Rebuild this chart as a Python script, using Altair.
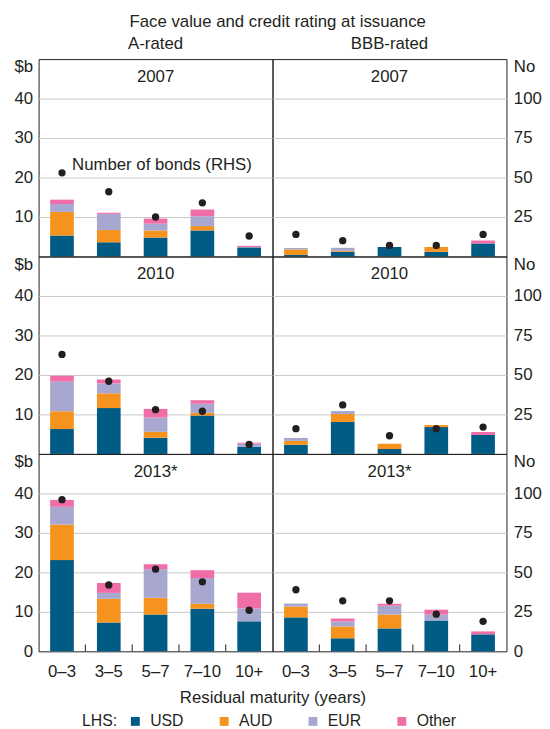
import altair as alt
import pandas as pd

# ---------------- data ----------------
maturities = ["0–3", "3–5", "5–7", "7–10", "10+"]
currencies = ["USD", "AUD", "EUR", "Other"]
currency_colors = ["#005b85", "#f6921e", "#a7a7cf", "#ef6ea8"]
years = ["2007", "2010", "2013*"]
ratings = ["A-rated", "BBB-rated"]

# A-rated, $b by currency (LHS) and number of bonds (RHS)
a_2007 = {"USD": [5.3, 3.6, 4.8, 6.6, 2.3], "AUD": [6.0, 3.1, 1.8, 1.1, 0.0],
          "EUR": [2.0, 4.1, 1.7, 2.5, 0.1], "Other": [1.1, 0.3, 1.3, 1.7, 0.3]}
a_2007_bonds = [53, 41, 25, 34, 13]

a_2010 = {"USD": [6.3, 11.6, 4.1, 9.7, 1.8], "AUD": [4.5, 3.75, 1.5, 0.7, 0.0],
          "EUR": [7.5, 2.5, 3.6, 2.3, 0.8], "Other": [1.5, 1.0, 2.2, 0.9, 0.25]}
a_2010_bonds = [63, 46, 28, 27, 6]

a_2013 = {"USD": [23.1, 7.3, 9.3, 10.8, 7.6], "AUD": [9.0, 6.0, 4.25, 1.25, 0.0],
          "EUR": [4.5, 1.5, 7.25, 6.5, 3.25], "Other": [1.75, 2.5, 1.25, 2.0, 4.0]}
a_2013_bonds = [96, 42, 52, 44, 26]

# BBB-rated
bbb_2007 = {"USD": [0.4, 1.2, 2.4, 1.2, 3.3], "AUD": [1.4, 0.25, 0.0, 1.2, 0.0],
            "EUR": [0.35, 0.75, 0.0, 0.0, 0.0], "Other": [0.0, 0.0, 0.0, 0.0, 0.75]}
bbb_2007_bonds = [14, 10, 7, 7, 14]

bbb_2010 = {"USD": [2.3, 8.1, 1.25, 6.8, 4.8], "AUD": [1.0, 2.0, 1.33, 0.5, 0.0],
            "EUR": [0.75, 0.75, 0.0, 0.0, 0.0], "Other": [0.0, 0.0, 0.0, 0.0, 0.75]}
bbb_2010_bonds = [16, 31, 11.5, 16, 17]

bbb_2013 = {"USD": [8.6, 3.3, 5.8, 7.8, 4.3], "AUD": [2.75, 3.0, 3.5, 0.0, 0.0],
            "EUR": [0.75, 1.25, 2.25, 1.5, 0.0], "Other": [0.0, 0.75, 0.5, 1.25, 0.75]}
bbb_2013_bonds = [39, 32, 32, 23.5, 19]

panel_values = {
    ("2007", "A-rated"): (a_2007, a_2007_bonds),
    ("2007", "BBB-rated"): (bbb_2007, bbb_2007_bonds),
    ("2010", "A-rated"): (a_2010, a_2010_bonds),
    ("2010", "BBB-rated"): (bbb_2010, bbb_2010_bonds),
    ("2013*", "A-rated"): (a_2013, a_2013_bonds),
    ("2013*", "BBB-rated"): (bbb_2013, bbb_2013_bonds),
}

# ---------------- style ----------------
FONT = "Liberation Sans"
INK = "#231f20"
GRID = "#c8c8c8"
W, H = 237, 200

x_scale = alt.Scale(type="band", domain=maturities, paddingInner=0, paddingOuter=0)

legend = alt.Legend(
    title="LHS:", orient="none", legendX=44, legendY=663, direction="horizontal",
    titleOrient="left", titleFontSize=16, titleFontWeight="normal", titleColor=INK,
    titleBaseline="middle", titlePadding=10,
    labelFontSize=16, labelColor=INK, labelOffset=7,
    symbolType="square", symbolSize=81, symbolStrokeWidth=0, symbolOpacity=1,
    columnPadding=26, gridAlign="all", padding=0,
)


def make_panel(year, rating):
    values, bonds = panel_values[(year, rating)]
    left = rating == "A-rated"
    top_row = year == years[0]
    bottom_row = year == years[-1]

    rows = []
    for ci, cur in enumerate(currencies):
        for mi, m in enumerate(maturities):
            v = values[cur][mi]
            if v > 0:
                rows.append({"maturity": m, "currency": cur, "value": v, "ord": ci})
    bar_df = pd.DataFrame(rows)
    dot_df = pd.DataFrame({"maturity": maturities, "bonds": bonds})

    if bottom_row:
        ax_kw = dict(labelAngle=0, ticks=False, domain=False, labelFontSize=17,
                     labelPadding=13, labelColor=INK, grid=False)
        if left:
            x_axis = alt.Axis(title="Residual maturity (years)", titleX=237, titleY=39,
                              titleBaseline="top", titleFontSize=17, titleFontWeight="normal",
                              titleColor=INK, **ax_kw)
        else:
            x_axis = alt.Axis(title=None, **ax_kw)
    else:
        x_axis = None

    def xenc(**kw):
        return alt.X("maturity:N", scale=x_scale, axis=x_axis, **kw)

    if left:
        vals = ([0] if bottom_row else []) + [10, 20, 30, 40, 50]
        y_axis = alt.Axis(
            values=vals, title=None, ticks=False, domain=False, labelFontSize=17,
            labelColor=INK, labelPadding=6, labelOverlap=False,
            labelExpr="datum.value == 50 ? '$b' : datum.label",
            labelBaseline={"condition": {"test": "datum.value == 50", "value": "top"}, "value": "middle"},
            gridColor=GRID,
            gridOpacity={"condition": {"test": "datum.value == 0 || datum.value == 50", "value": 0}, "value": 1},
        )
        dot_axis = None
    else:
        y_axis = alt.Axis(values=[10, 20, 30, 40], labels=False, ticks=False, domain=False,
                          title=None, gridColor=GRID)
        dvals = ([0] if bottom_row else []) + [25, 50, 75, 100, 125]
        dot_axis = alt.Axis(
            orient="right", values=dvals, grid=False, ticks=False, domain=False, title=None,
            labelFontSize=17, labelColor=INK, labelPadding=7, labelOverlap=False,
            labelExpr="datum.value == 125 ? 'No' : datum.label",
            labelBaseline={"condition": {"test": "datum.value == 125", "value": "top"}, "value": "middle"},
        )

    bars = alt.Chart(bar_df).mark_bar(width=24).encode(
        x=xenc(),
        y=alt.Y("value:Q", stack="zero", scale=alt.Scale(domain=[0, 50], nice=False), axis=y_axis),
        color=alt.Color("currency:N", scale=alt.Scale(domain=currencies, range=currency_colors),
                        legend=legend),
        order=alt.Order("ord:Q", sort="ascending"),
    )

    dots = alt.Chart(dot_df).mark_circle(size=55, color=INK, opacity=1).encode(
        x=xenc(),
        y=alt.Y("bonds:Q", scale=alt.Scale(domain=[0, 125], nice=False), axis=dot_axis),
    )

    year_text = alt.Chart(pd.DataFrame({"label": [year]})).mark_text(
        fontSize=17, color=INK, align="center", baseline="middle"
    ).encode(text="label:N", x=alt.value(W / 2), y=alt.value(18))

    layers = [bars, dots, year_text]

    if top_row and left:
        note = alt.Chart(pd.DataFrame({"label": ["Number of bonds (RHS)"]})).mark_text(
            fontSize=17, color=INK, align="center", baseline="middle"
        ).encode(text="label:N", x=alt.value(125), y=alt.value(107))
        layers.append(note)

    if bottom_row:
        ticks = alt.Chart(pd.DataFrame({"maturity": maturities[1:]})).mark_rule(
            color=INK, strokeWidth=1
        ).encode(x=xenc(bandPosition=0), y=alt.value(H), y2=alt.value(H - 7))
        layers.append(ticks)

    props = dict(width=W, height=H)
    if top_row:
        props["title"] = alt.TitleParams(rating, fontSize=17, fontWeight="normal", color=INK,
                                         anchor="middle", offset=5)
    return alt.layer(*layers).resolve_scale(y="independent").properties(**props)


panels = [make_panel(y, r) for y in years for r in ratings]

chart = alt.concat(*panels, columns=2, spacing=0, bounds="flush").properties(
    title=alt.TitleParams("Face value and credit rating at issuance", fontSize=17,
                          fontWeight="normal", color=INK, anchor="middle", offset=4),
    padding={"left": 5, "right": 0, "top": 0, "bottom": 0},
).configure(font=FONT).configure_view(stroke=INK, strokeWidth=1)

chart.save("out.html", embed_options={"renderer": "svg", "actions": False})
